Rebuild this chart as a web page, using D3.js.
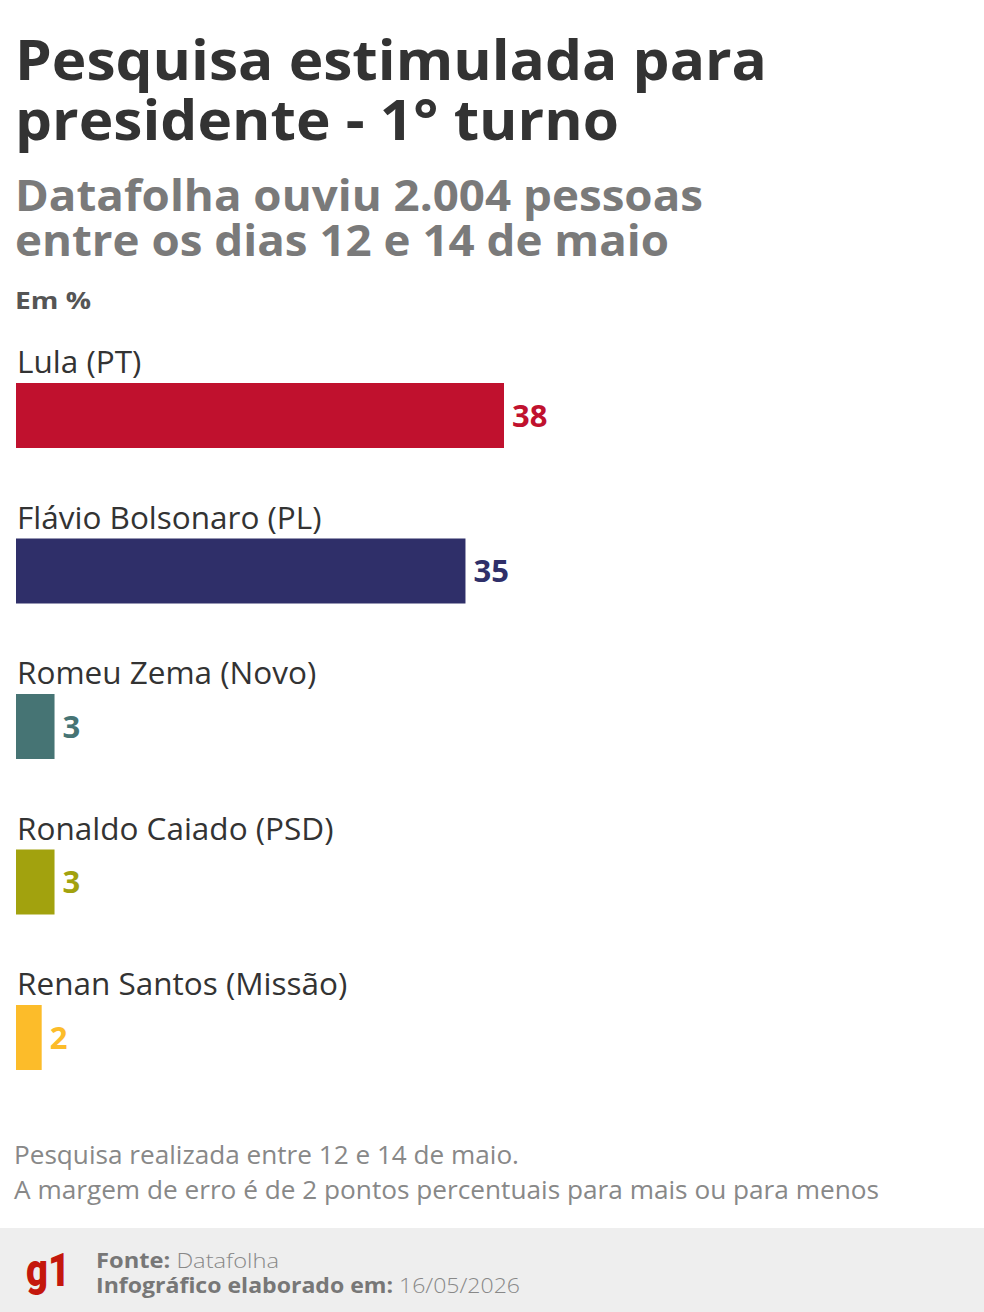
<!DOCTYPE html>
<html>
<head>
<meta charset="utf-8">
<script src="https://cdn.jsdelivr.net/npm/d3@7"></script>
<style>
  html, body { margin: 0; padding: 0; background: #fff; }
  svg { display: block; }
  text { font-family: "Open Sans", "Noto Sans", sans-serif; }
</style>
</head>
<body>
<svg id="chart" width="984" height="1312"></svg>
<script>
// ---- data ----
const candidates = ["Lula (PT)", "Flávio Bolsonaro (PL)", "Romeu Zema (Novo)", "Ronaldo Caiado (PSD)", "Renan Santos (Missão)"];
const values = [38, 35, 3, 3, 2];
const colors = ["#c0112e", "#2f2f69", "#467474", "#a2a20e", "#fcbc2a"];
const titleLines = ["Pesquisa estimulada para", "presidente - 1° turno"];
const subtitleLines = ["Datafolha ouviu 2.004 pessoas", "entre os dias 12 e 14 de maio"];
const unitLabel = "Em %";
const notes = ["Pesquisa realizada entre 12 e 14 de maio.", "A margem de erro é de 2 pontos percentuais para mais ou para menos"];
const sourceLabel = "Datafolha";
const dateLabel = "16/05/2026";

const svg = d3.select("#chart");

// fit text to a target width
function fit(sel, w) {
  sel.attr("textLength", w).attr("lengthAdjust", "spacingAndGlyphs");
}

// ---- title ----
const titleWidths = [752, 604];
titleLines.forEach((t, i) => {
  svg.append("text").attr("x", 15).attr("y", 80 + i * 60)
    .attr("font-size", 56).attr("font-weight", 700).attr("fill", "#333333")
    .text(t).call(fit, titleWidths[i]);
});
const subWidths = [688, 654];
subtitleLines.forEach((t, i) => {
  svg.append("text").attr("x", 15).attr("y", 211 + i * 45)
    .attr("font-size", 43).attr("font-weight", 700).attr("fill", "#7a7a7a")
    .text(t).call(fit, subWidths[i]);
});
svg.append("text").attr("x", 15).attr("y", 309)
  .attr("font-size", 24).attr("font-weight", 700).attr("fill", "#555555")
  .text(unitLabel).call(fit, 76);

// ---- scales ----
const x = d3.scaleLinear().domain([0, 38]).range([16, 504]);
const y = d3.scaleBand().domain(candidates).range([343, 343 + 155.5 * candidates.length]).padding(0);
const barH = 65;

const g = svg.append("g");
const rows = g.selectAll("g.row").data(candidates).join("g").attr("class", "row");

rows.append("text")
  .attr("x", 17).attr("y", d => y(d) + 30)
  .attr("font-size", 31.5).attr("fill", "#333333")
  .text(d => d);

rows.append("rect")
  .attr("x", x(0)).attr("y", d => y(d) + 40)
  .attr("width", (d, i) => x(values[i]) - x(0))
  .attr("height", barH)
  .attr("fill", (d, i) => colors[i]);

rows.append("text")
  .attr("x", (d, i) => x(values[i]) + 8)
  .attr("y", d => y(d) + 40 + barH / 2 + 11)
  .attr("font-size", 31).attr("font-weight", 700)
  .attr("fill", (d, i) => colors[i])
  .text((d, i) => values[i]);

// ---- notes ----
const noteWidths = [505, 865];
notes.forEach((t, i) => {
  svg.append("text").attr("x", 14).attr("y", 1164 + i * 35)
    .attr("font-size", 25).attr("fill", "#888888")
    .text(t).call(fit, noteWidths[i]);
});

// ---- footer ----
svg.append("rect").attr("x", 0).attr("y", 1228).attr("width", 984).attr("height", 84).attr("fill", "#eeeeee");
svg.append("text").attr("x", 26).attr("y", 1286)
  .attr("font-size", 46).attr("font-weight", 900).attr("fill", "#c4170c")
  .style("font-family", "Roboto, Lato, sans-serif")
  .text("g1").call(fit, 44);

const f1 = svg.append("text").attr("x", 96).attr("y", 1268).attr("font-size", 21).attr("fill", "#888888");
f1.append("tspan").attr("font-weight", 700).attr("fill", "#777777").text("Fonte: ");
f1.append("tspan").attr("font-weight", 300).text(sourceLabel);
fit(f1, 183);
const f2 = svg.append("text").attr("x", 96).attr("y", 1293).attr("font-size", 21).attr("fill", "#888888");
f2.append("tspan").attr("font-weight", 700).attr("fill", "#777777").text("Infográfico elaborado em: ");
f2.append("tspan").attr("font-weight", 300).text(dateLabel);
fit(f2, 424);
</script>
</body>
</html>
